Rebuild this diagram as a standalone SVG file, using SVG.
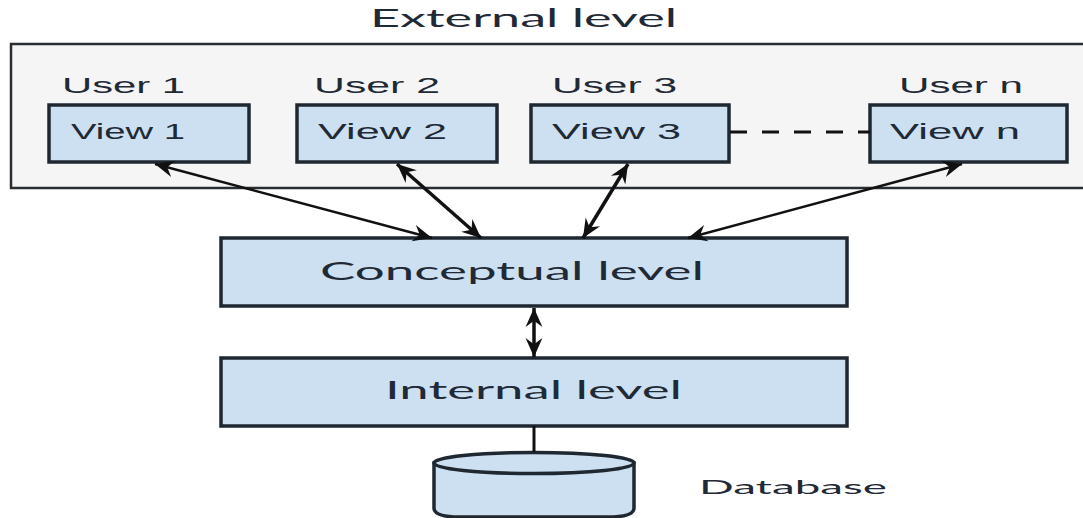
<svg xmlns="http://www.w3.org/2000/svg" width="1083" height="518" viewBox="0 0 1083 518">
<style>
.box{fill:#cde0f2;stroke:#1f2730;stroke-width:3.5}
.panel{fill:#f5f5f5;stroke:#2a2e33;stroke-width:2.5}
.t{font-family:"Liberation Sans",Arial,sans-serif;font-size:22px;fill:#1f2a36}
.q{font-family:"Lato","Noto Sans",sans-serif;font-size:25px;fill:#1f2a36}
.c{fill:none;stroke:#111;stroke-width:3}
.a{marker-start:url(#head);marker-end:url(#head)}
</style>
<defs>
<marker id="head" viewBox="0 0 20 18" refX="19" refY="9" markerUnits="userSpaceOnUse" markerWidth="22" markerHeight="19" orient="auto-start-reverse">
<path d="M1 1 L19 9 L1 17 L7 9 Z" fill="#111"/>
</marker>
</defs>
<rect width="1083" height="518" fill="#fff"/>
<g id="external-level">
<path class="panel" d="M1090 44 H11 V188 H1090"/>
<text class="q" x="370" y="27" textLength="307" lengthAdjust="spacingAndGlyphs">External level</text>
</g>
<g id="view-1"><text class="t" x="62" y="93" textLength="123" lengthAdjust="spacingAndGlyphs">User 1</text><rect class="box" x="49" y="105" width="200" height="57"/><text class="t" x="71" y="139" textLength="114" lengthAdjust="spacingAndGlyphs">View 1</text></g>
<g id="view-2"><text class="t" x="314" y="93" textLength="126" lengthAdjust="spacingAndGlyphs">User 2</text><rect class="box" x="297" y="105" width="200" height="57"/><text class="t" x="318" y="139" textLength="129" lengthAdjust="spacingAndGlyphs">View 2</text></g>
<g id="view-3"><text class="t" x="552" y="93" textLength="125" lengthAdjust="spacingAndGlyphs">User 3</text><rect class="box" x="531" y="105" width="198" height="57"/><text class="t" x="552" y="139" textLength="129" lengthAdjust="spacingAndGlyphs">View 3</text></g>
<g id="view-n"><text class="t" x="899" y="93" textLength="124" lengthAdjust="spacingAndGlyphs">User n</text><rect class="box" x="870" y="105" width="197" height="57"/><text class="t" x="890" y="139" textLength="130" lengthAdjust="spacingAndGlyphs">View n</text></g>
<g id="conceptual-level"><rect class="box" x="221" y="238" width="626" height="68"/><text class="q" x="320" y="280" textLength="384" lengthAdjust="spacingAndGlyphs">Conceptual level</text></g>
<g id="internal-level"><rect class="box" x="221" y="358" width="626" height="68"/><text class="q" x="385" y="399" textLength="297" lengthAdjust="spacingAndGlyphs">Internal level</text></g>
<g id="database">
<path class="box" d="M434 463 V508 Q434 517 460 517 H608 Q634 517 634 508 V463 Z"/>
<ellipse class="box" cx="534" cy="463" rx="100" ry="10.500"/>
<text class="q" x="699" y="494" textLength="188" lengthAdjust="spacingAndGlyphs" style="font-size:20px">Database</text>
</g>
<g id="connectors">
<path class="c a" d="M155 164 L432 238" style="stroke-width:2.500"/>
<path class="c a" d="M397 164 L481 238" style="stroke-width:3.500"/>
<path class="c a" d="M628 164 L583 238" style="stroke-width:3.500"/>
<path class="c a" d="M962 164 L688 238" style="stroke-width:2.500"/>
<path class="c a" d="M534 308 V357" style="stroke-width:3.500"/>
<path class="c" d="M534 426 V452"/>
<path class="c" d="M730 132 H870" stroke-dasharray="17 15"/>
</g>
</svg>
